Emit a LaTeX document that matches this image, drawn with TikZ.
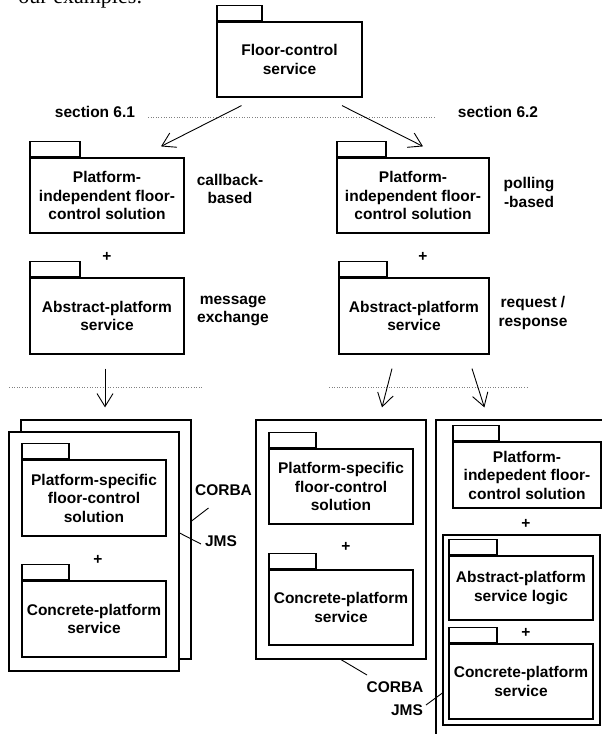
\documentclass[tikz,border=0pt]{standalone}
\usepackage{fontspec}
\setmainfont{Liberation Sans}
\newfontfamily\pageserif{Liberation Serif}
\usetikzlibrary{arrows.meta}

\begin{document}
\begin{tikzpicture}[
    x=1pt, y=-1pt,
    every node/.style={font=\bfseries\fontsize{15.5}{18.5}\selectfont, align=center},
    pkg/.style={draw, line width=1.2pt, inner sep=0pt},
    tab/.style={draw, line width=1.2pt, minimum width=48pt, minimum height=15pt, inner sep=0pt, anchor=south west},
    frame/.style={draw, fill=white, line width=1.2pt, inner sep=0pt},
    arr/.style={-{Straight Barb[length=13pt,width=16pt]}, line width=0.9pt},
    sep/.style={dotted, line width=0.6pt, gray},
    lead/.style={line width=0.9pt}
]
\useasboundingbox (0,0) rectangle (602,734);
\clip (0,0) rectangle (602,734);

\node[anchor=base east, font=\pageserif\fontsize{22}{22}\selectfont] (prev) at (146,3) {our examples:};

\node[pkg, minimum width=145pt, minimum height=75pt] (fcs) at (289.5,59.5) {Floor-control\\service};
\node[tab, minimum width=45pt] (fcst) at (fcs.north west) {};

\node (s61) at (95,112) {section 6.1};
\node (s62) at (498,112) {section 6.2};
\draw[sep] (148,117) -- (435,117);

\node[pkg, minimum width=154pt, minimum height=75pt] (pi1) at (107,195.5) {Platform-\\independent floor-\\control solution};
\node[tab, minimum width=50pt] (pi1t) at (pi1.north west) {};
\node[pkg, minimum width=152pt, minimum height=75pt] (pi2) at (413,195.5) {Platform-\\independent floor-\\control solution};
\node[tab, minimum width=49pt] (pi2t) at (pi2.north west) {};
\node (cbk) at (230,189) {callback-\\based};
\node (pol) at (529,192.5) {polling\\-based};

\draw[arr] ([shift={(-48,8)}]fcs.south) -- ([shift={(54,-11)}]pi1.north);
\draw[arr] ([shift={(52.5,8)}]fcs.south) -- ([shift={(10,-11)}]pi2.north);

\node (plus1) at (107,257) {+};
\node (plus2) at (423,257) {+};

\node[pkg, minimum width=154pt, minimum height=76pt] (ap1) at (107,316) {Abstract-platform\\service};
\node[tab, minimum width=50pt] (ap1t) at (ap1.north west) {};
\node[pkg, minimum width=150pt, minimum height=76pt] (ap2) at (414,316) {Abstract-platform\\service};
\node[tab] (ap2t) at (ap2.north west) {};
\node (msg) at (233,311) {message\\exchange};
\node (req) at (533,313) {request /\\response};

\draw[sep] (9,387) -- (202,387);
\draw[sep] (329,387) -- (528,387);

\node[frame, minimum width=170pt, minimum height=239pt] (cb) at (106,539.5) {};
\node[frame, minimum width=170pt, minimum height=239pt] (cf) at (94,551.5) {};
\node[pkg, minimum width=144pt, minimum height=76pt] (ps1) at (94,498) {Platform-specific\\floor-control\\solution};
\node[tab, minimum width=47pt] (ps1t) at (ps1.north west) {};
\node (plus3) at (98,560) {+};
\node[pkg, minimum width=144pt, minimum height=76pt] (cp1) at (94,619) {Concrete-platform\\service};
\node[tab, minimum width=47pt] (cp1t) at (cp1.north west) {};
\node (corba1) at (223.5,490) {CORBA};
\node (jms1) at (221,541) {JMS};
\draw[lead] ([shift={(-15,18)}]corba1.center) -- ([yshift=18.5pt]cb.east);
\draw[lead] ([yshift=18.5pt]cf.east) -- ([shift={(-20,3)}]jms1.center);

\node[frame, minimum width=170pt, minimum height=239pt] (mf) at (341,539.5) {};
\node[pkg, minimum width=144pt, minimum height=75pt] (ps2) at (341,486.5) {Platform-specific\\floor-control\\solution};
\node[tab, minimum width=47pt] (ps2t) at (ps2.north west) {};
\node (plus4) at (346,547) {+};
\node[pkg, minimum width=144pt, minimum height=75pt] (cp2) at (341,607.5) {Concrete-platform\\service};
\node[tab, minimum width=47pt] (cp2t) at (cp2.north west) {};
\node (corba2) at (395,687) {CORBA};
\node (jms2) at (407,710) {JMS};
\draw[lead] (mf.south) -- ([shift={(-28,-12)}]corba2.center);

\node[frame, minimum width=200pt, minimum height=340pt] (rf) at (536,590) {};
\node[pkg, minimum width=148pt, minimum height=66pt] (pi3) at (527,475) {Platform-\\indepedent floor-\\control solution};
\node[tab, minimum width=46pt] (pi3t) at (pi3.north west) {};
\node (plus5) at (526,524) {+};
\node[frame, minimum width=157pt, minimum height=190pt] (inf) at (521.5,630) {};
\node[pkg, minimum width=144pt, minimum height=64pt] (apl) at (521,588) {Abstract-platform\\service logic};
\node[tab] (aplt) at (apl.north west) {};
\node (plus6) at (526,633) {+};
\node[pkg, minimum width=144pt, minimum height=75pt] (cp3) at (521,681.5) {Concrete-platform\\service};
\node[tab] (cp3t) at (cp3.north west) {};
\draw[lead] ([shift={(19,-5)}]jms2.center) -- ([yshift=-63pt]inf.west);

\draw[arr] ([shift={(-2,14)}]ap1.south) -- ([shift={(-1,-12)}]cb.north);
\draw[arr] ([shift={(-22,14)}]ap2.south) -- ([shift={(41,-12)}]mf.north);
\draw[arr] ([shift={(58,14)}]ap2.south) -- ([shift={(49,-12)}]rf.north west);
\end{tikzpicture}
\end{document}
